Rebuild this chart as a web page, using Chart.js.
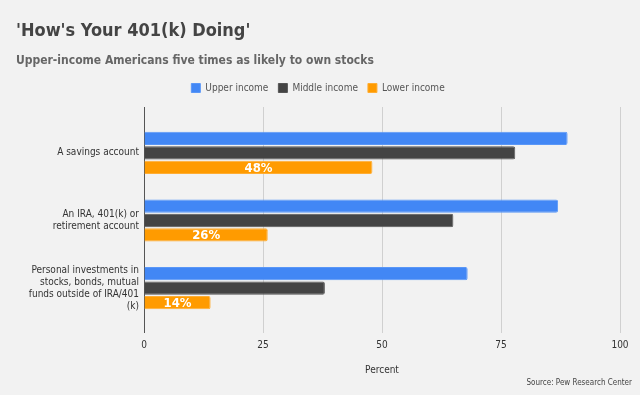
<!DOCTYPE html>
<html>
<head>
<meta charset="utf-8">
<script src="https://cdn.jsdelivr.net/npm/chart.js@4/dist/chart.umd.min.js"></script>
<style>
  html, body { margin: 0; padding: 0; background: #f2f2f2; }
  .wrap { position: relative; width: 640px; height: 395px; }
  .source {
    position: absolute; right: 8px; top: 378px;
    font: 8px "DejaVu Sans Condensed", "DejaVu Sans", sans-serif; color: #444;
  }
</style>
</head>
<body>
<div class="wrap">
  <canvas id="chart" width="640" height="395"></canvas>
  <div class="source">Source: Pew Research Center</div>
</div>
<script>
var FONT = '"DejaVu Sans Condensed", "DejaVu Sans", sans-serif';

var categories = [
  'A savings account',
  ['An IRA, 401(k) or', 'retirement account'],
  ['Personal investments in', 'stocks, bonds, mutual', 'funds outside of IRA/401', '(k)']
];
var upperIncome = [89, 87, 68];
var middleIncome = [78, 65, 38];
var lowerIncome = [48, 26, 14];
var xTicks = [0, 25, 50, 75, 100];

// white % labels on the lower-income bars only
var barLabels = {
  id: 'barLabels',
  afterDatasetsDraw: function (chart) {
    var ctx = chart.ctx;
    var meta = chart.getDatasetMeta(2);
    ctx.save();
    ctx.font = 'bold 13px ' + FONT;
    ctx.fillStyle = '#ffffff';
    ctx.textAlign = 'center';
    ctx.textBaseline = 'middle';
    meta.data.forEach(function (bar, i) {
      ctx.fillText(lowerIncome[i] + '%', (bar.base + bar.x) / 2, bar.y + 1);
    });
    ctx.restore();
  }
};

function gridColor(c) {
  return c.tick && c.tick.value === 0 ? '#555555' : '#d0d0d0';
}

new Chart(document.getElementById('chart'), {
  type: 'bar',
  data: {
    labels: categories,
    datasets: [
      { label: 'Upper income', data: upperIncome, backgroundColor: '#4287f5', borderColor: '#5a97f7' },
      { label: 'Middle income', data: middleIncome, backgroundColor: '#444444', borderColor: '#555555' },
      { label: 'Lower income', data: lowerIncome, backgroundColor: '#ff9b00', borderColor: '#ffad33' }
    ]
  },
  options: {
    indexAxis: 'y',
    responsive: false,
    animation: false,
    categoryPercentage: 0.64,
    barPercentage: 0.92,
    datasets: { bar: { borderWidth: 1, borderRadius: 2 } },
    layout: { padding: { left: 16, right: 20, top: 0, bottom: 19 } },
    scales: {
      x: {
        min: 0, max: 100,
        afterBuildTicks: function (s) { s.ticks = xTicks.map(function (v) { return { value: v }; }); },
        afterFit: function (s) { s.height = 54; },
        grid: { color: gridColor, tickLength: 11, lineWidth: 1 },
        border: { display: false },
        ticks: { color: '#333', padding: 6, font: { family: FONT, size: 10 } },
        title: { display: true, text: 'Percent', color: '#333', padding: { top: 13, bottom: 0 }, font: { family: FONT, size: 10 } }
      },
      xTop: {
        axis: 'x', position: 'top',
        min: 0, max: 100,
        afterBuildTicks: function (s) { s.ticks = xTicks.map(function (v) { return { value: v }; }); },
        afterFit: function (s) { s.height = 16; },
        grid: { color: gridColor, tickLength: 12, drawOnChartArea: false },
        border: { display: false },
        ticks: { display: false }
      },
      y: {
        grid: { display: false, drawTicks: false },
        border: { display: false },
        afterFit: function (s) { s.width = 128; },
        ticks: { color: '#333', padding: 5, font: { family: FONT, size: 10, lineHeight: 1.2 } }
      }
    },
    plugins: {
      title: {
        display: true, align: 'start', text: "'How's Your 401(k) Doing'",
        color: '#444', padding: { top: 21, bottom: 4 },
        font: { family: FONT, size: 18, weight: 'bold' }
      },
      subtitle: {
        display: true, align: 'start', text: 'Upper-income Americans five times as likely to own stocks',
        color: '#666', padding: { top: 7, bottom: 5 },
        font: { family: FONT, size: 12, weight: 'bold' }
      },
      legend: {
        labels: { boxWidth: 9, boxHeight: 9, padding: 10, color: '#555', font: { family: FONT, size: 10 } }
      },
      tooltip: { enabled: false }
    }
  },
  plugins: [barLabels]
});
</script>
</body>
</html>
